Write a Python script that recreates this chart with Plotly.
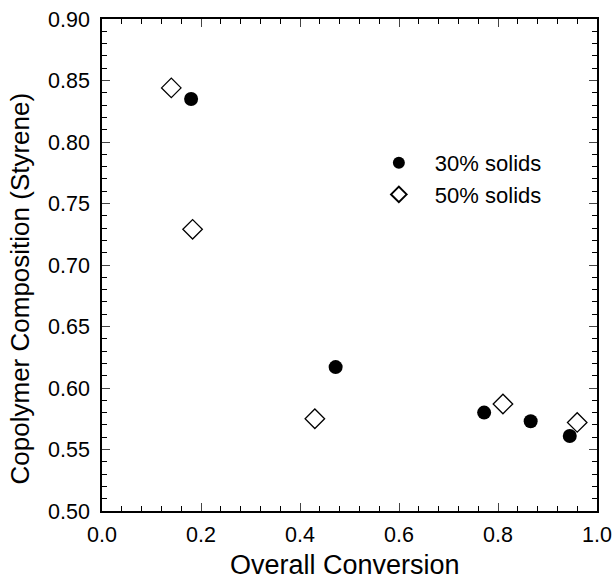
import plotly.graph_objects as go

x30 = [0.18, 0.472, 0.772, 0.866, 0.945]
y30 = [0.835, 0.617, 0.580, 0.573, 0.561]
x50 = [0.14, 0.183, 0.43, 0.81, 0.96]
y50 = [0.844, 0.729, 0.575, 0.587, 0.572]
label30 = "30% solids"
label50 = "50% solids"
xtitle = "Overall Conversion"
ytitle = "Copolymer Composition (Styrene)"

fig = go.Figure()
fig.add_trace(go.Scatter(x=x30, y=y30, mode="markers", name=label30,
                         marker=dict(symbol="circle", size=14, color="black")))
fig.add_trace(go.Scatter(x=x50, y=y50, mode="markers", name=label50,
                         marker=dict(symbol="diamond-open", size=15, color="black",
                                     line=dict(width=1.3, color="black"))))

font = "Liberation Sans, Arial, sans-serif"
fig.update_layout(
    width=613, height=588,
    margin=dict(l=102, r=16, t=19, b=77),
    plot_bgcolor="white", paper_bgcolor="white",
    font=dict(family=font, color="black", size=21),
    legend=dict(x=0.527, y=0.75, xanchor="left", yanchor="top",
                bgcolor="rgba(0,0,0,0)", font=dict(size=22), itemsizing="constant",
                itemwidth=62),
    showlegend=True,
)
fig.update_xaxes(
    range=[0, 1], dtick=0.2, tickformat=".1f", ticks="inside", ticklen=8,
    tickwidth=1.2, showline=True, linecolor="black", linewidth=1.5, mirror="ticks",
    showgrid=False, zeroline=False, tickfont=dict(size=21.5), automargin=False,
    ticklabelstandoff=3,
    minor=dict(dtick=0.04, ticks="inside", ticklen=5, tickcolor="black", showgrid=False),
)
fig.update_yaxes(
    range=[0.5, 0.9], dtick=0.05, tickformat=".2f", ticks="inside", ticklen=8,
    tickwidth=1.2, showline=True, linecolor="black", linewidth=1.5, mirror="ticks",
    showgrid=False, zeroline=False, tickfont=dict(size=21.5), automargin=False,
    ticklabelstandoff=6,
    minor=dict(dtick=0.01, ticks="inside", ticklen=5, tickcolor="black", showgrid=False),
)
fig.add_annotation(text=xtitle, xref="paper", yref="paper", x=0.491, y=-0.11,
                   xanchor="center", yanchor="middle", showarrow=False,
                   font=dict(size=27))
fig.add_annotation(text=ytitle, xref="paper", yref="paper", x=-0.166, y=0.452,
                   xanchor="center", yanchor="middle", showarrow=False,
                   textangle=-90, font=dict(size=26))
fig.write_html("out.html")
